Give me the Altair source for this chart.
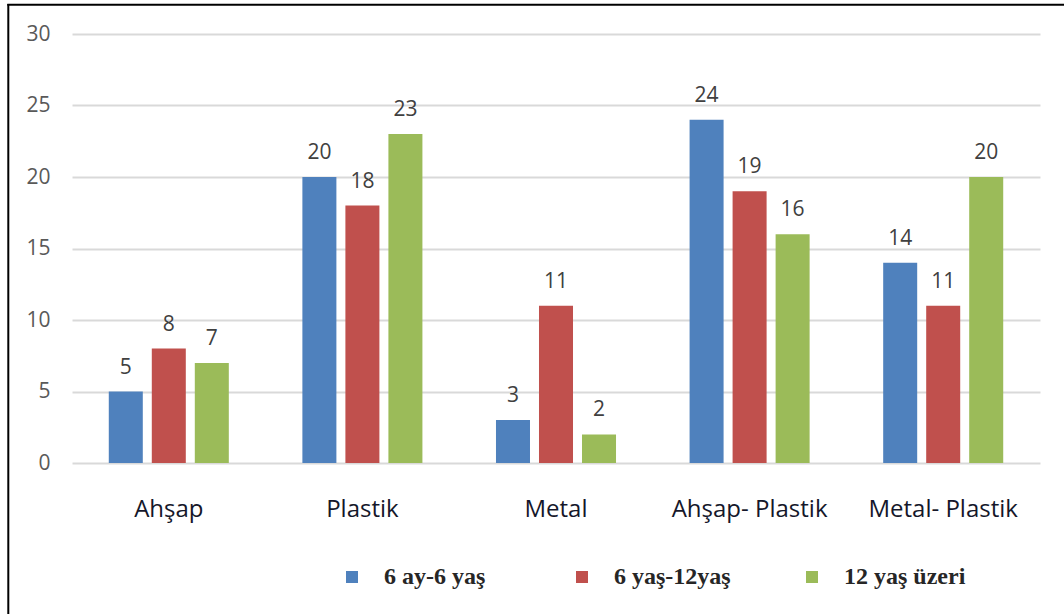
import altair as alt
import pandas as pd

# Categories, age groups and counts
categories = ["Ahşap", "Plastik", "Metal", "Ahşap- Plastik", "Metal- Plastik"]
groups = ["6 ay-6 yaş", "6 yaş-12yaş", "12 yaş üzeri"]
values_0_6 = [5, 20, 3, 24, 14]
values_6_12 = [8, 18, 11, 19, 11]
values_12_up = [7, 23, 2, 16, 20]
colors = ["#4F81BD", "#C0504D", "#9BBB59"]

rows = []
for series_name, series in zip(groups, [values_0_6, values_6_12, values_12_up]):
    for cat, val in zip(categories, series):
        rows.append({"kategori": cat, "grup": series_name, "deger": val})
df = pd.DataFrame(rows)

W, H = 968, 429
LEFT, TOP = 72, 34

x_axis = alt.Axis(
    title=None,
    labelAngle=0,
    ticks=False,
    domain=False,
    grid=False,
    labelPadding=53,
    labelBaseline="alphabetic",
    labelFont="Open Sans",
    labelFontSize=24,
    labelFontWeight=500,
    labelColor="#15172A",
)
x_scale = alt.Scale(paddingInner=0.38, paddingOuter=0.19)
xoff_enc = alt.XOffset(
    "grup:N", sort=groups, scale=alt.Scale(paddingInner=0.2093, paddingOuter=0)
)
y_axis = alt.Axis(
    title=None,
    values=[0, 5, 10, 15, 20, 25, 30],
    ticks=False,
    domain=False,
    grid=True,
    gridColor="#D9D9D9",
    gridWidth=2,
    labelPadding=22,
    labelFont="Open Sans",
    labelFontSize=21,
    labelColor="#595959",
)
y_scale = alt.Scale(domain=[0, 30], nice=False)

base = alt.Chart(df)

bars = base.mark_bar().encode(
    x=alt.X("kategori:N", sort=categories, scale=x_scale, axis=x_axis),
    xOffset=xoff_enc,
    y=alt.Y("deger:Q", scale=y_scale, axis=y_axis),
    color=alt.Color(
        "grup:N",
        sort=groups,
        scale=alt.Scale(domain=groups, range=colors),
        legend=alt.Legend(
            title=None,
            orient="none",
            direction="horizontal",
            columns=3,
            gridAlign="all",
            columnPadding=64,
            legendX=268,
            legendY=531,
            padding=0,
            symbolType="square",
            symbolSize=144,
            symbolStrokeWidth=0,
            labelOffset=20,
            labelFont="Liberation Serif",
            labelFontWeight="bold",
            labelFontSize=24,
            labelColor="#262626",
            labelLimit=300,
        ),
    ),
)

labels = base.mark_text(
    baseline="alphabetic", dy=-18, font="Open Sans", fontSize=21, color="#404040"
).encode(
    x=alt.X("kategori:N", sort=categories, scale=x_scale, axis=x_axis),
    xOffset=xoff_enc,
    y=alt.Y("deger:Q", scale=y_scale, axis=y_axis),
    text="deger:Q",
)

# Outer frame: left and top edges
frame_data = alt.Data(values=[{"k": 1}])
left_edge = alt.Chart(frame_data).mark_rule(color="#000000", strokeWidth=2).encode(
    x=alt.value(8.3 - LEFT), y=alt.value(4 - TOP), y2=alt.value(700)
)
top_edge = alt.Chart(frame_data).mark_rule(color="#000000", strokeWidth=2).encode(
    x=alt.value(7.3 - LEFT), x2=alt.value(1100), y=alt.value(4.8 - TOP)
)

chart = (
    alt.layer(bars, labels, left_edge, top_edge)
    .properties(
        width=W,
        height=H,
        background="#FFFFFF",
        view=alt.ViewBackground(stroke="transparent", strokeOpacity=0),
        padding={"left": LEFT, "top": TOP, "right": 1064 - LEFT - W, "bottom": 614 - TOP - H},
        autosize=alt.AutoSizeParams(type="none"),
    )
    .configure(
        view=alt.ViewConfig(stroke="transparent", strokeOpacity=0),
        style={"cell": {"stroke": "transparent", "strokeOpacity": 0}},
    )
)

chart.save("out.html", embed_options={"renderer": "svg", "actions": False})
